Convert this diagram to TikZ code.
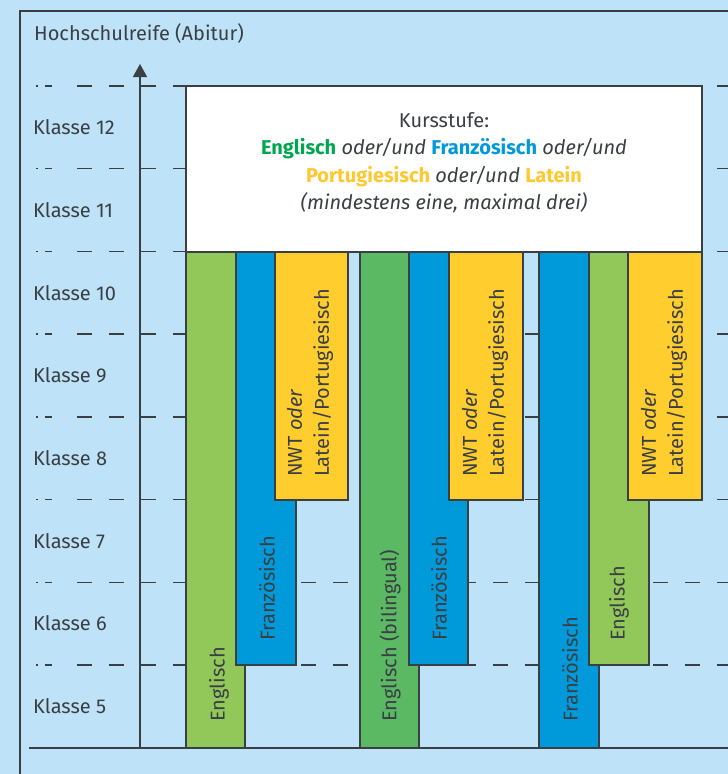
\documentclass[tikz,border=0pt]{standalone}
\usepackage{fontspec}
\setmainfont{Fira Sans}
\usetikzlibrary{arrows.meta}
\definecolor{bg}{HTML}{BEE2F7}
\definecolor{lgreen}{HTML}{92C85A}
\definecolor{dgreen}{HTML}{5BB863}
\definecolor{fblue}{HTML}{0099D9}
\definecolor{fyellow}{HTML}{FFCD2E}
\definecolor{tgreen}{HTML}{00A650}
\definecolor{tblue}{HTML}{0099D9}
\definecolor{tyellow}{HTML}{FFC82E}
\definecolor{linec}{HTML}{3A3F44}
\begin{document}
\begin{tikzpicture}[x=1pt,y=-1pt,
  frameline/.style={draw=linec,line width=1.4pt},
  dashline/.style={draw=linec,line width=1.4pt},
  colbox/.style={draw=linec,line width=1.2pt},
  lbl/.style={inner sep=0pt,anchor=west,text=linec,font=\fontsize{20}{27.5}\selectfont},
  vlbl/.style={inner sep=0pt,anchor=west,rotate=90,text=linec,font=\fontsize{20}{27}\selectfont,align=left}]
\useasboundingbox (0,0) rectangle (728,774);
\fill[bg] (0,0) rectangle (728,774);
% frame
\draw[frameline] (20,774) -- (20,11) -- (728,11);
% dashed lines
\foreach \y in {86,168.7,251.4,334.1,416.8,499.5,582.2,664.9}{
  \draw[dashline] (36,\y) -- (37.5,\y);
  \draw[dashline] (45,\y) -- (52,\y);
  \draw[dashline,dash pattern=on 15pt off 17pt] (77,\y) -- (728,\y);
}
% baseline and axis
\draw[frameline] (29,748) -- (728,748);
\coordinate (axb) at (140,748);
\coordinate (axt) at (140,64);
\draw[frameline,-{Triangle[length=13pt,width=14pt]}] (axb) -- (axt);
% group 1
\draw[colbox,fill=lgreen] (186,252) rectangle (245,748);
\draw[colbox,fill=fblue] (236,252) rectangle (296,665);
\draw[colbox,fill=fyellow] (275,252) rectangle (348,500);
% group 2
\draw[colbox,fill=dgreen] (360,252) rectangle (419,748);
\draw[colbox,fill=fblue] (409,252) rectangle (468,665);
\draw[colbox,fill=fyellow] (449,252) rectangle (523,500);
% group 3
\draw[colbox,fill=fblue] (539,252) rectangle (599,748);
\draw[colbox,fill=lgreen] (589,252) rectangle (649,665);
\draw[colbox,fill=fyellow] (628,252) rectangle (702,500);
% white box
\draw[colbox,fill=white] (186,86) rectangle (702,252);
\node[inner sep=0pt,align=center,text=linec,font=\fontsize{20}{27.5}\selectfont] (kurs) at (444,162.5)
  {Kursstufe:\\
   \textbf{\color{tgreen}Englisch} \textit{oder/und} \textbf{\color{tblue}Französisch} \textit{oder/und}\\
   \textbf{\color{tyellow}Portugiesisch} \textit{oder/und} \textbf{\color{tyellow}Latein}\\
   \textit{(mindestens eine, maximal drei)}};
% labels
\node[lbl] (title) at (34,33) {Hochschulreife (Abitur)};
\node[lbl] (k12) at (33,127.4) {Klasse 12};
\node[lbl] (k11) at (33,210) {Klasse 11};
\node[lbl] (k10) at (33,292.8) {Klasse 10};
\node[lbl] (k9) at (33,375.5) {Klasse 9};
\node[lbl] (k8) at (33,458.2) {Klasse 8};
\node[lbl] (k7) at (33,540.9) {Klasse 7};
\node[lbl] (k6) at (33,623.6) {Klasse 6};
\node[lbl] (k5) at (33,706.3) {Klasse 5};
% column texts
\node[vlbl] (t1a) at (219,722) {Englisch};
\node[vlbl] (t1b) at (267,641) {Französisch};
\node[vlbl] (t1c) at (310,477) {NWT \textit{oder}\\Latein/Portugiesisch};
\node[vlbl] (t2a) at (390,722) {Englisch (bilingual)};
\node[vlbl] (t2b) at (439,641) {Französisch};
\node[vlbl] (t2c) at (485,477) {NWT \textit{oder}\\Latein/Portugiesisch};
\node[vlbl] (t3a) at (570,722) {Französisch};
\node[vlbl] (t3b) at (619,641) {Englisch};
\node[vlbl] (t3c) at (664,477) {NWT \textit{oder}\\Latein/Portugiesisch};
\end{tikzpicture}
\end{document}
